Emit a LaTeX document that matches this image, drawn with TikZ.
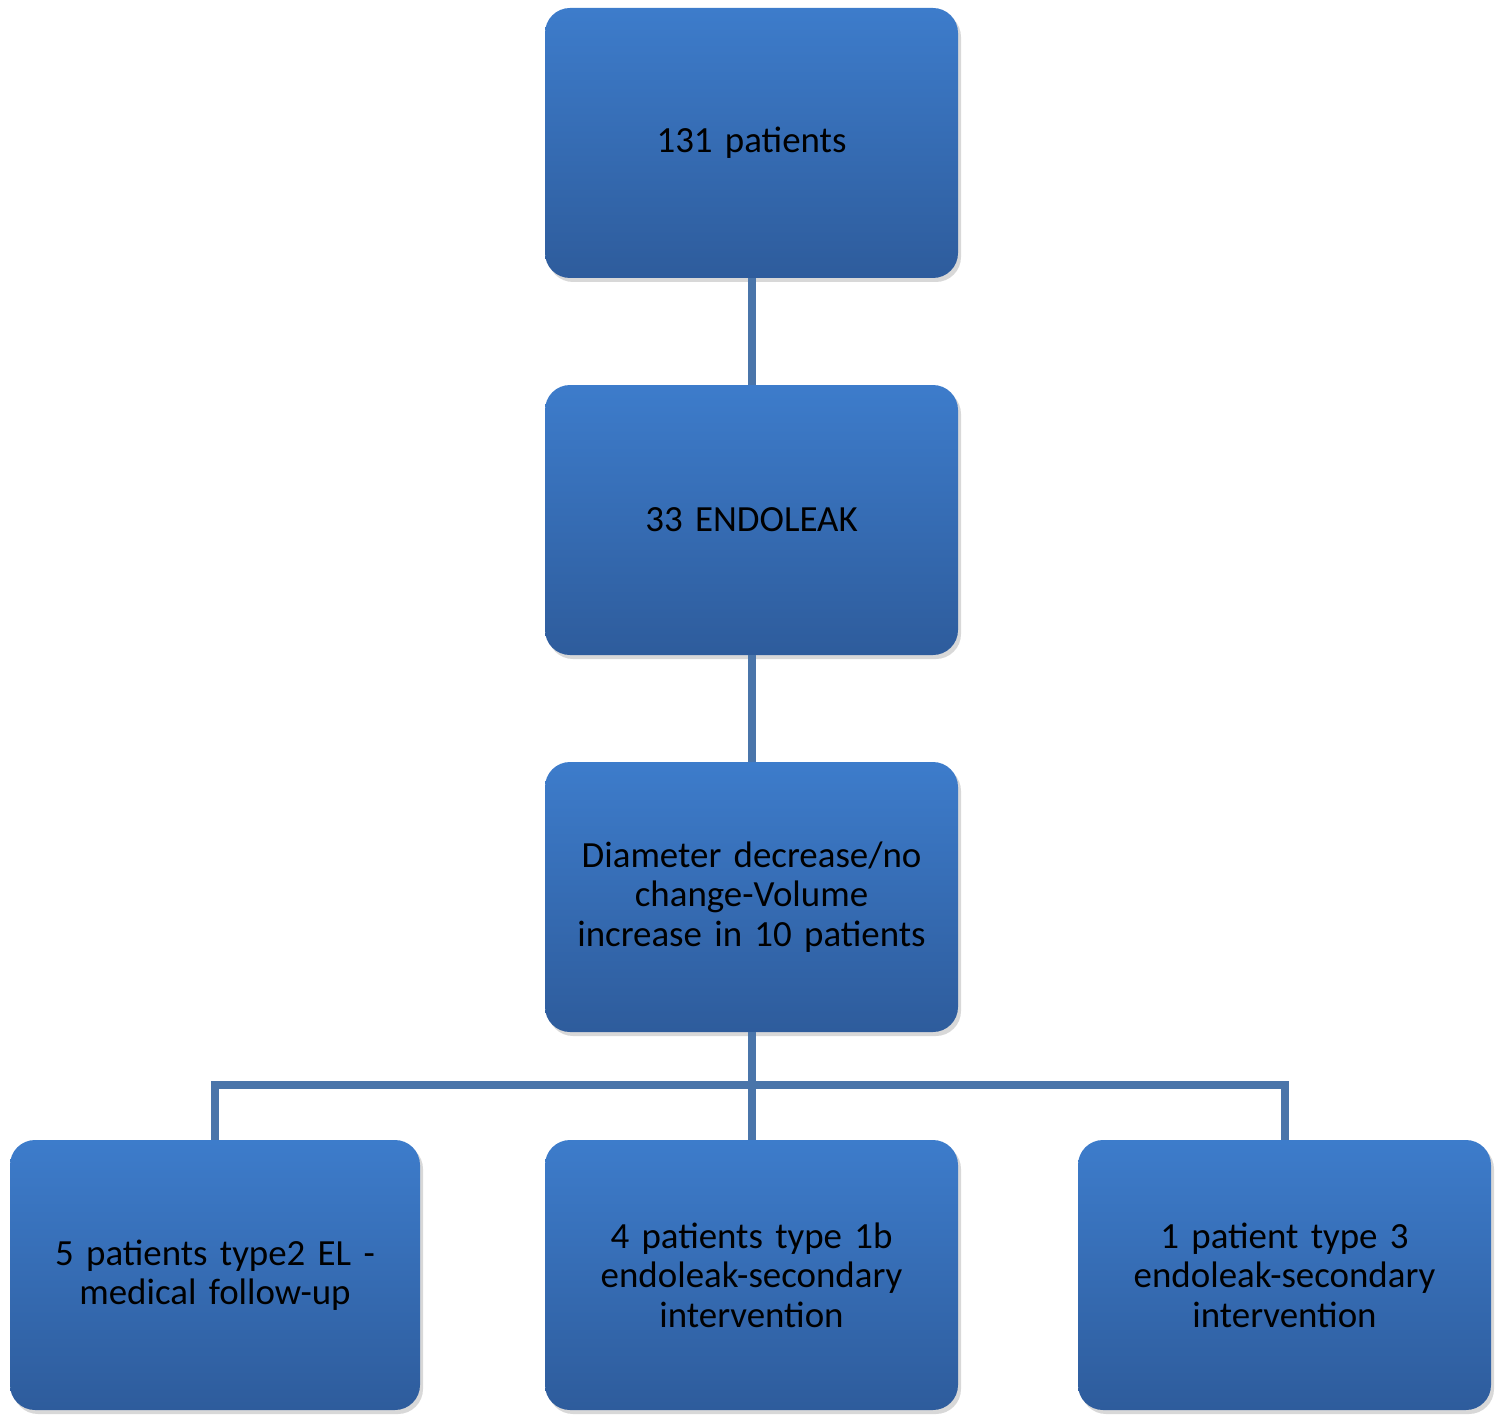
\documentclass[tikz,border=0pt]{standalone}
\usepackage{fontspec}
\setmainfont{Carlito}
\usetikzlibrary{shadows}
\definecolor{boxtop}{HTML}{3D7CCB}
\definecolor{boxbot}{HTML}{2E5C9C}
\definecolor{linec}{HTML}{4A75AA}
\tikzset{
  bx/.style={rounded corners=0.5cm, minimum width=8.26cm, minimum height=5.4cm,
    top color=boxtop, bottom color=boxbot, draw=none, align=center, text width=7.6cm,
    font=\fontsize{21}{22.5}\selectfont,
    drop shadow={shadow xshift=0.06cm, shadow yshift=-0.08cm, fill=gray!60, opacity=0.5}},
  conn/.style={draw=linec, line width=0.16cm}
}
\begin{document}
\begin{tikzpicture}
\useasboundingbox (0,0) rectangle (30,-28.44);
\node[bx] (a) at (15.03,-2.86) {131 patients};
\node[bx] (b) at (15.03,-10.4) {33 ENDOLEAK};
\node[bx] (c) at (15.03,-17.94) {Diameter decrease/no\\ change-Volume\\ increase in 10 patients};
\node[bx, minimum width=8.2cm] (l) at (4.3,-25.5) {5 patients type2 EL -\\ medical follow-up};
\node[bx] (m) at (15.03,-25.5) {4 patients type 1b\\ endoleak-secondary\\ intervention};
\node[bx] (r) at (25.69,-25.5) {1 patient type 3\\ endoleak-secondary\\ intervention};
\coordinate (h) at (15.03,-21.7);
\begin{scope}[on background layer/.try]
\end{scope}
\draw[conn] (a.south) -- (b.north);
\draw[conn] (b.south) -- (c.north);
\draw[conn] (c.south) -- (m.north);
\draw[conn] (l.north) |- (h) -| (r.north);
\end{tikzpicture}
\end{document}
